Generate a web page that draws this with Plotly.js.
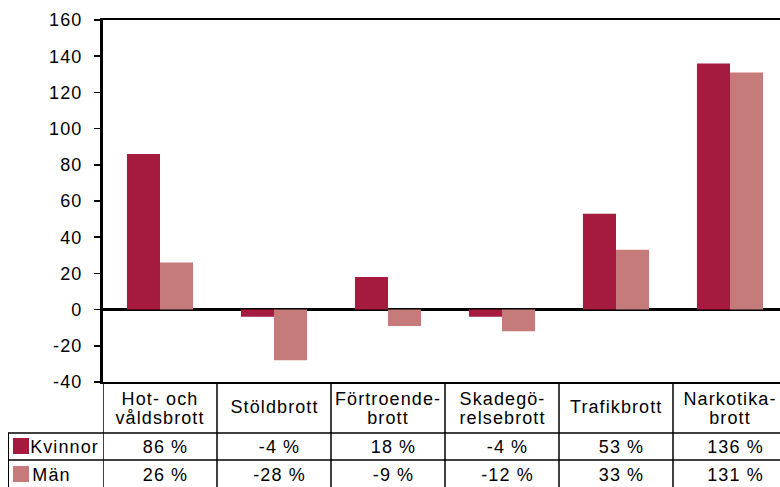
<!DOCTYPE html>
<html>
<head>
<meta charset="utf-8">
<script src="https://cdn.plot.ly/plotly-3.0.1.min.js"></script>
<style>
  html, body { margin: 0; padding: 0; background: #fff; }
  #chart { width: 780px; height: 487px; }
  .main-svg text { letter-spacing: 1.1px; }
</style>
</head>
<body>
<div id="chart"></div>
<script>
// ---- data ----
const categories = ["Hot- och<br>våldsbrott", "Stöldbrott", "Förtroende-<br>brott", "Skadegö-<br>relsebrott", "Trafikbrott", "Narkotika-<br>brott"];
const seriesNames = ["Kvinnor", "Män"];
const kvinnor = [86, -4, 18, -4, 53, 136];
const man = [26, -28, -9, -12, 33, 131];
const yTickVals = [-40, -20, 0, 20, 40, 60, 80, 100, 120, 140, 160];
const colors = ["#A51B40", "#C47B79"];

// ---- layout helpers ----
const W = 780, H = 487;
const M = {l: 103, r: 0, t: 20, b: 105};
const plotH = H - M.t - M.b;   // 362
const plotW = W - M.l - M.r;   // 677
const py = px => (H - M.b - px) / plotH;   // pixel y -> paper y
const pxX = px => (px - M.l) / plotW;      // pixel x -> paper x

const xs = categories.map((_, i) => i);
const allSeries = [kvinnor, man];

const traces = allSeries.map((vals, s) => ({
  type: "bar",
  name: seriesNames[s],
  x: xs,
  y: vals,
  marker: {color: colors[s], line: {width: 0}},
  showlegend: false,
  hoverinfo: "skip"
}));

const font = {family: "Liberation Sans, Arial, sans-serif", size: 18, color: "#000"};
const annotations = [];
const shapes = [];

// header row (category names)
categories.forEach((c, i) => {
  const lines = c.split("<br>");
  const centers = lines.length === 1 ? [407] : [399, 418];
  lines.forEach((ln, k) => {
    annotations.push({
      x: i, xref: "x", y: py(centers[k]), yref: "paper",
      text: ln, showarrow: false, xanchor: "center", yanchor: "middle",
      font: font
    });
  });
});

// value rows
const rowCenters = [447, 475];
allSeries.forEach((vals, s) => {
  vals.forEach((v, i) => {
    annotations.push({
      x: i, xref: "x", y: py(rowCenters[s]), yref: "paper",
      text: v + " %", showarrow: false, xanchor: "center", yanchor: "middle",
      xshift: 5, font: font
    });
  });
  // legend label
  annotations.push({
    x: pxX(32), xref: "paper", y: py(rowCenters[s]), yref: "paper",
    text: seriesNames[s], showarrow: false, xanchor: "left", yanchor: "middle",
    font: font
  });
  // legend swatch
  shapes.push({
    type: "rect", xref: "paper", yref: "paper",
    x0: pxX(13), x1: pxX(29),
    y0: py(rowCenters[s] - 9), y1: py(rowCenters[s] + 7),
    fillcolor: colors[s], line: {width: 0}
  });
});

// table grid
const lineStyle = {color: "#000", width: 1.5};
for (let i = 0; i <= categories.length; i++) {
  shapes.push({type: "line", xref: "x", yref: "paper",
    x0: i - 0.5, x1: i - 0.5, y0: 0, y1: py(H + 5), line: lineStyle});
}
[433, 460].forEach(yy => {
  shapes.push({type: "line", xref: "paper", yref: "paper",
    x0: pxX(8), x1: 1.02, y0: py(yy), y1: py(yy), line: lineStyle});
});
shapes.push({type: "line", xref: "paper", yref: "paper",
  x0: pxX(8.5), x1: pxX(8.5), y0: py(433), y1: py(H + 5), line: {color: "#000", width: 1}});

const layout = {
  width: W, height: H,
  margin: M,
  paper_bgcolor: "#fff", plot_bgcolor: "#fff",
  barmode: "group", bargap: 0.42, bargroupgap: 0,
  showlegend: false,
  font: font,
  xaxis: {
    range: [-0.5, -0.5 + plotW / 114],
    showticklabels: false, ticks: "", showgrid: false, zeroline: false,
    showline: true, linecolor: "#000", linewidth: 2, mirror: true
  },
  yaxis: {
    range: [-40, 160], tickvals: yTickVals, ticktext: yTickVals.map(String),
    ticks: "outside", ticklen: 6, tickwidth: 1.5, tickcolor: "#000",
    ticklabelstandoff: 8,
    showgrid: false, showline: true, linecolor: "#000", linewidth: 3,
    zeroline: true, zerolinecolor: "#000", zerolinewidth: 3,
    tickfont: {family: "Liberation Sans, Arial, sans-serif", size: 18, color: "#000"}
  },
  annotations: annotations,
  shapes: shapes
};

Plotly.newPlot("chart", traces, layout, {staticPlot: true, displayModeBar: false});
</script>
</body>
</html>
